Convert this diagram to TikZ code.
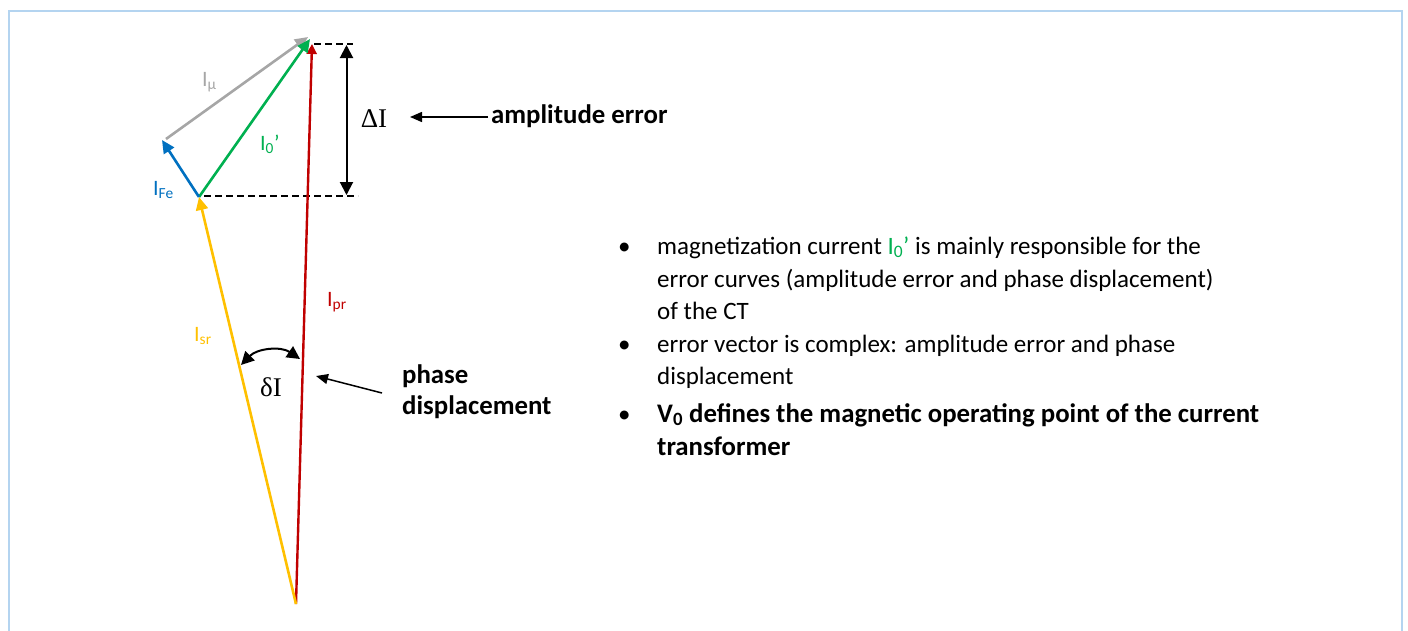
\documentclass[tikz,border=0pt]{standalone}
\usepackage{fontspec}
\setmainfont{Carlito}
\newfontfamily\serifgr{Liberation Serif}
\usetikzlibrary{arrows.meta}
\definecolor{cred}{RGB}{192,0,0}
\definecolor{cyel}{RGB}{255,192,0}
\definecolor{cblue}{RGB}{0,112,192}
\definecolor{cgreen}{RGB}{0,176,80}
\definecolor{cgray}{RGB}{166,166,166}
\definecolor{cframe}{RGB}{180,212,240}
\tikzset{
  vec/.style={line width=2.6pt,-{Triangle[length=13pt,width=12pt]}},
  lab/.style={font=\fontsize{22}{26}\selectfont, inner sep=0pt, anchor=base west},
  grk/.style={font=\serifgr\fontsize{27}{31}\selectfont, inner sep=0pt},
  note/.style={font=\bfseries\fontsize{26.8}{31}\selectfont, inner sep=0pt, anchor=base west},
  bul/.style={font=\fontsize{25}{30}\selectfont, inner sep=0pt, anchor=base west},
  bulb/.style={font=\bfseries\fontsize{26.8}{31}\selectfont, inner sep=0pt, anchor=base west},
  dbl/.style={line width=2pt,{Triangle[length=13pt,width=13pt]}-{Triangle[length=13pt,width=13pt]}},
  thin arrow/.style={line width=1.5pt,-{Triangle[length=12pt,width=10pt]}},
  guide/.style={line width=1.8pt,dash pattern=on 7pt off 4pt}
}
\begin{document}
\begin{tikzpicture}[x=1pt,y=-1pt]
\useasboundingbox (0,0) rectangle (1408,630);
% frame
\draw[cframe,line width=2pt] (8.5,632) -- (8.5,10.5) -- (1402,10.5) -- (1402,632);
% vector points
\coordinate (O) at (296,604);
\coordinate (Ptop) at (312,44);
\coordinate (A) at (199,197);
\coordinate (B) at (162,140);
\coordinate (Gs) at (166,139);
\coordinate (Gt) at (308,37);
\coordinate (Zt) at (310,39);
% dashed guides
\coordinate (t1) at (314,44);
\coordinate (t2) at (353,44);
\coordinate (b1) at (204,196);
\coordinate (b2) at (358,196);
\draw[guide] (t1) -- (t2);
\draw[guide] (b1) -- (b2);
% vectors
\draw[vec,cred,line width=2.4pt,-{Triangle[length=10pt,width=10pt]}] (O) -- (Ptop);
\draw[vec,cgray] (Gs) -- (Gt);
\draw[vec,cgreen] (A) -- (Zt);
\draw[vec,cblue] (A) -- (B);
\draw[vec,cyel] (O) -- (A);
% labels
\node[lab,text=cgray] (lmu) at (202,86) {I\textsubscript{μ}};
\node[lab,text=cgreen] (lzero) at (260,150) {I\textsubscript{0}’};
\node[lab,text=cblue] (lfe) at (153,195) {I\textsubscript{Fe}};
\node[lab,text=cred] (lpr) at (327,306) {I\textsubscript{pr}};
\node[lab,text=cyel] (lsr) at (194,341) {I\textsubscript{sr}};
% amplitude error
\coordinate (da) at (346.5,45);
\coordinate (db) at (346.5,195);
\draw[dbl] (da) -- (db);
\node[grk] (dI) at (374,119) {ΔI};
\node[note] (amp) at (491,123) {amplitude error};
\coordinate (ampt) at (410,117);
\coordinate (amps) at (488,117);
\draw[thin arrow] (amps) -- (ampt);
% phase displacement
\coordinate (d1) at (241,365);
\coordinate (d2) at (300,359);
\draw[dbl] (d1) to[bend left=40] (d2);
\node[grk] (delI) at (271,387) {δI};
\node[note] (ph1) at (402,383) {phase};
\node[note] (ph2) at (402,414) {displacement};
\coordinate (pht) at (316,376);
\coordinate (phs) at (382,393);
\draw[thin arrow] (phs) -- (pht);
% bullets
\node[bul] (b1d) at (618,254) {•};
\node[bul] (l1) at (657,254) {magnetization current {\color{cgreen}I\textsubscript{0}’} is mainly responsible for the};
\node[bul] (l2) at (657,287) {error curves (amplitude error and phase displacement)};
\node[bul] (l3) at (657,319) {of the CT};
\node[bul] (b2d) at (618,352) {•};
\node[bul] (l4) at (657,352) {error vector is complex: amplitude error and phase};
\node[bul] (l5) at (657,384) {displacement};
\node[bul] (b3d) at (618,422) {•};
\node[bulb] (l6) at (657,422) {V\textsubscript{0} defines the magnetic operating point of the current};
\node[bulb] (l7) at (657,455) {transformer};
\end{tikzpicture}
\end{document}
